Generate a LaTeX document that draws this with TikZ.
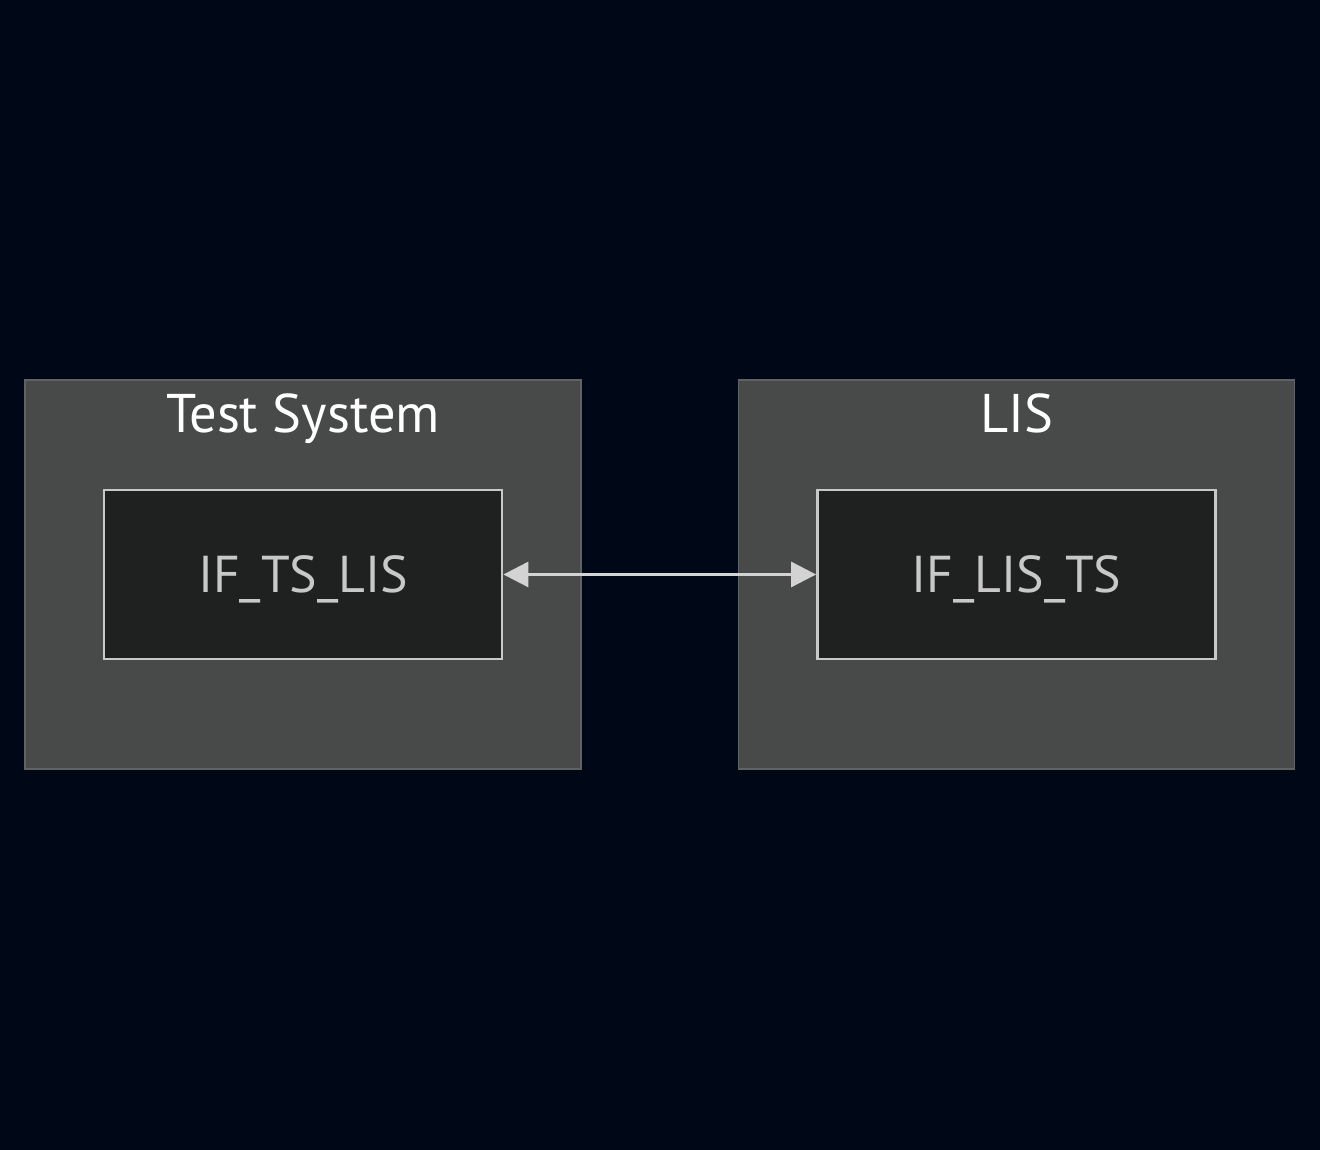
\documentclass[tikz,border=0pt]{standalone}
\usepackage{fontspec}
\setmainfont{PT Sans}
\usepackage{tikz}
\usetikzlibrary{arrows.meta}
\definecolor{bgnavy}{HTML}{000817}
\definecolor{groupfill}{HTML}{484A49}
\definecolor{groupline}{HTML}{606264}
\definecolor{boxfill}{HTML}{1F2020}
\definecolor{boxline}{HTML}{C8C8C8}
\definecolor{linkline}{HTML}{D3D3D3}
\tikzset{
    group/.style={shape=rectangle,draw=groupline,fill=groupfill,line width=1.1pt,minimum width=11.12cm,minimum height=7.78cm},
    grouptitle/.style={text=white,anchor=base,font=\fontsize{31}{34}\selectfont},
    iface/.style={shape=rectangle,draw=boxline,fill=boxfill,line width=1.6pt,minimum width=7.96cm,minimum height=3.38cm,text=boxline,text height=21pt,text depth=0pt,font=\fontsize{29.5}{33}\selectfont}
}

\begin{document}
\begin{tikzpicture}
    \fill[bgnavy] (0,0) rectangle (26.4,23);
    \useasboundingbox (0,0) rectangle (26.4,23);

    \node[group] (TS) at (6.06,11.51) {};
    \node[group] (LIS) at (20.33,11.51) {};
    \node[grouptitle] (TStitle) at (6.06,14.34) {Test System};
    \node[grouptitle] (LIStitle) at (20.33,14.34) {LIS};

    \node[iface] (A) at (6.06,11.51) {IF\_TS\_LIS};
    \node[iface] (B) at (20.33,11.51) {IF\_LIS\_TS};

    \path[color=linkline, line width=1.7pt, {Triangle[length=0.5cm,width=0.5cm]}-{Triangle[length=0.5cm,width=0.5cm]}] (A) edge (B);
\end{tikzpicture}
\end{document}
